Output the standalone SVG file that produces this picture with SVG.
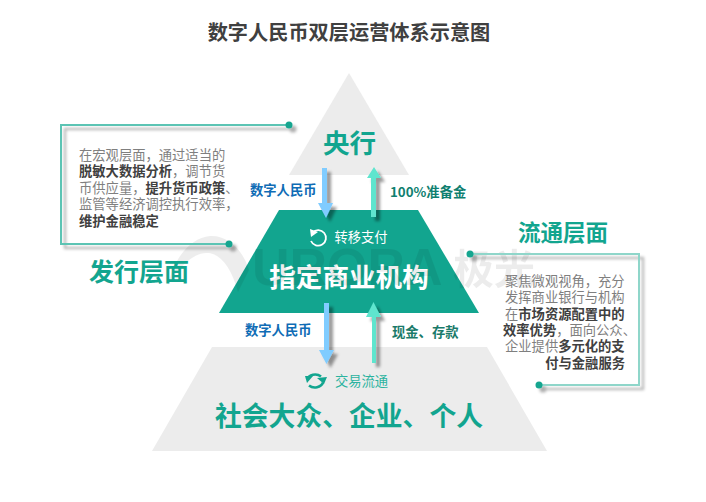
<svg xmlns="http://www.w3.org/2000/svg" width="706" height="502" viewBox="0 0 706 502">
<style>
text{font-family:"Noto Sans CJK SC","Noto Sans",sans-serif}
.b{font-weight:700}
.green{fill:#12a58f}
.grey{fill:#ececec}
.body{font-size:13.3px;fill:#7f7f7f}
.body .s{font-weight:700;fill:#404040}
.lab{font-size:13.3px;font-weight:700}
.frame{fill:none;stroke-width:2}
.arrow{filter:url(#sh)}
.frameg{filter:url(#sh2)}
.wm{fill:#000;opacity:.07}
</style>
<defs>
<filter id="sh" x="-100%" y="-30%" width="300%" height="160%"><feDropShadow dx="4" dy="4" stdDeviation="1.6" flood-color="#000" flood-opacity=".4"/></filter>
<filter id="sh2" x="-10%" y="-10%" width="120%" height="120%"><feDropShadow dx="4" dy="4" stdDeviation="1.5" flood-color="#000" flood-opacity=".32"/></filter>
</defs>
<rect width="706" height="502" fill="#fff"/>
<text id="title" class="b" x="349" y="40" font-size="20.200" text-anchor="middle" fill="#404040">数字人民币双层运营体系示意图</text>

<g id="node-central-bank">
<polygon class="grey" points="349,73 409,175 289,175"/>
<text class="b green" x="349.500" y="153" font-size="26.600" text-anchor="middle">央行</text>
</g>
<g id="node-public">
<polygon class="grey" points="212,347 487,347 547,451 152,451"/>
<g fill="none" stroke="#12a58f" stroke-width="2.600">
<path d="M307,379.500a8.500,7 0 0 1 14,-3"/><path d="M323,382.500a8.500,7 0 0 1 -14,3"/>
</g>
<polygon class="green" points="305,376 313,376 307,383"/><polygon class="green" points="317,379 327,378 324,385" transform="translate(0,-1)"/>
<text x="361.500" y="386" font-size="13.300" text-anchor="middle" fill="#2bb39f">交易流通</text>
<text class="b green" x="349" y="426" font-size="26.800" text-anchor="middle">社会大众、企业、个人</text>
</g>
<g id="node-bank">
<polygon class="green" points="279,210 418,210 479,313 219,313"/>
<path d="M312.500,232.500A7.800,7.800 0 1 1 311,241" fill="none" stroke="#fff" stroke-width="1.800"/>
<polygon points="310,229 318,232 311,237" fill="#fff"/>
<text x="361" y="242" font-size="13.300" text-anchor="middle" fill="#fff">转移支付</text>
<text class="b" x="349" y="287" font-size="26.600" text-anchor="middle" fill="#fff">指定商业机构</text>
</g>

<g id="watermark">
<path class="wm" d="M168,285C174,258 190,238 210,236C228,235 243,250 249,270L238,292C232,270 222,254 208,253C194,252 180,266 168,285Z"/>
<text class="wm b" x="252" y="285" font-size="52" style="font-family:'Liberation Sans',sans-serif">URORA</text>
<text class="wm b" x="453" y="284" font-size="41">极光</text>
</g>

<g id="connectors">
<polygon class="arrow" fill="#80ccff" points="322,168 327,168 327,203 333,203 326,218 318,203 322,203"/>
<polygon class="arrow" fill="#5ee5ce" points="371,217 376,217 376,178 381,178 374,167 367,178 371,178"/>
<polygon class="arrow" fill="#80ccff" points="324,303 329,303 329,350 334,350 326.500,364 319,350 324,350"/>
<polygon class="arrow" fill="#5ee5ce" points="372,363 376,363 376,317 381,317 373.500,302 366,317 372,317"/>
</g>
<g id="connector-labels">
<text class="lab" x="250" y="195" fill="#0f6cb5">数字人民币</text>
<text class="lab" x="390" y="197" fill="#0f7f70">100%准备金</text>
<text class="lab" x="245" y="335" fill="#0f6cb5">数字人民币</text>
<text class="lab" x="392" y="337" fill="#1a7a6a">现金、存款</text>
</g>

<g id="node-issue-layer">
<g class="frameg"><polyline class="frame" stroke="#5cc4b4" points="289,125 61,125 61,244 229,244"/>
<circle class="green" cx="289" cy="125" r="3.500"/><circle class="green" cx="229" cy="244" r="3.500"/></g>
<g class="body">
<text x="79" y="160">在宏观层面&#65292;通过适当的</text>
<text x="79" y="176"><tspan class="s">脱敏大数据分析</tspan>&#65292;调节货</text>
<text x="79" y="193">币供应量&#65292;<tspan class="s">提升货币政策</tspan>、</text>
<text x="79" y="209">监管等经济调控执行效率&#65292;</text>
<text x="79" y="226" class="s">维护金融稳定</text>
</g>
<text class="b green" x="139" y="281" font-size="25" text-anchor="middle">发行层面</text>
</g>

<g id="node-circulation-layer">
<text class="b green" x="563" y="241" font-size="22.500" text-anchor="middle">流通层面</text>
<g class="frameg"><polyline class="frame" stroke="#8fd6ca" points="470,254 639,254 639,385 539,385"/>
<circle class="green" cx="470" cy="254" r="3.500"/><circle class="green" cx="539" cy="385" r="3.500"/></g>
<g class="body">
<text x="505" y="286">聚焦微观视角&#65292;充分</text>
<text x="505" y="302">发挥商业银行与机构</text>
<text x="505" y="319">在<tspan class="s">市场资源配置中的</tspan></text>
<text x="503" y="335"><tspan class="s">效率优势</tspan>&#65292;面向公众、</text>
<text x="505" y="351">企业提供<tspan class="s">多元化的支</tspan></text>
<text x="625" y="368" class="s" text-anchor="end">付与金融服务</text>
</g>
</g>
</svg>
